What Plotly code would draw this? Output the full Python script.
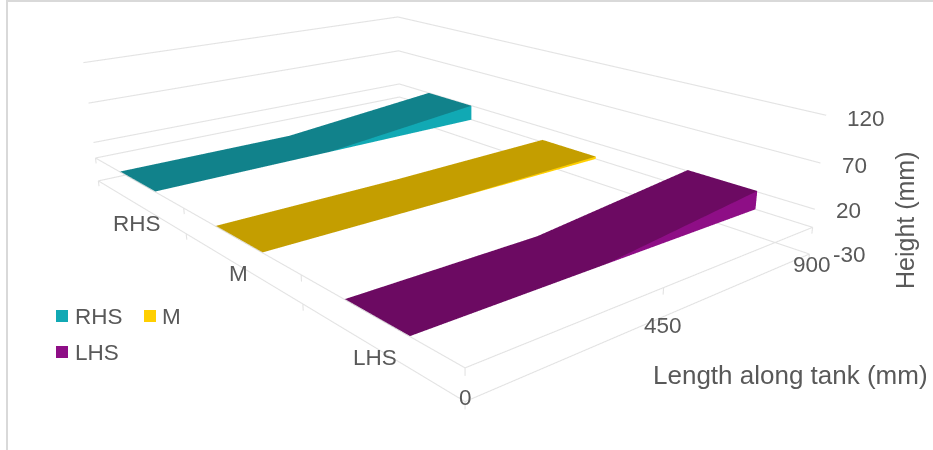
import plotly.graph_objects as go

# --- chart data ---------------------------------------------------------
lengths_mm = [0, 450, 900]
series_names = ["RHS", "M", "LHS"]
rhs_height = [0, 0, 20]
m_height = [0, 0, 3]
lhs_height = [0, 0, 21]
series_heights = [rhs_height, m_height, lhs_height]
series_rows = [2.5, 1.5, 0.5]
legend_colors = ["#11A9B4", "#FFCF00", "#8E0E86"]
top_colors = ["#11828B", "#C49E00", "#6C0A62"]
height_ticks = [-30, 0, 20, 70, 120]
row_edges = [0, 1, 2, 3]

# --- page and camera set-up ---------------------------------------------
WIDTH, WINDOW_H = 933, 450
PLOT_H = 909          # plotly's fixed 45 degree lens needs this height for a long focal length
OFFSET = 229          # the plot is pulled up so its middle sits at the window middle
RIBBON_HALF = 0.2
GRID = "#E3E3E3"
TEXT = "#595959"
FONT = "Liberation Sans"
# ranges carry a little padding so lines on the box faces are not clipped
X_RANGE = [-20, 920]
Y_RANGE = [-0.1, 3.1]
Z_RANGE = [-40, 130]


def paper_x(x):
    return x / WIDTH


def paper_y(y):
    return 1 - (y + OFFSET) / PLOT_H


fig = go.Figure()


def polyline(points, width=2.2, color=GRID):
    xs, ys, zs = zip(*points)
    fig.add_trace(go.Scatter3d(x=xs, y=ys, z=zs, mode="lines",
                               line=dict(color=color, width=width),
                               hoverinfo="skip", showlegend=False))


# back walls and the two floor outlines
for z in height_ticks:
    polyline([(0, 3, z), (900, 3, z), (900, 0, z)])
for z in (-30, 0):
    polyline([(0, 3, z), (0, 0, z), (900, 0, z)])
    for edge in row_edges:
        polyline([(0, edge, z), (0, edge, z - 7)])
    for length in lengths_mm:
        polyline([(length, 0, z), (length, 0, z - 7)])

# one ribbon per series: top surface in the shaded tone, near side in the full colour
for name, values, row, light, dark in zip(series_names, series_heights, series_rows,
                                          legend_colors, top_colors):
    xs, ys, zs, i, j, k, face = [], [], [], [], [], [], []
    near, far = row - RIBBON_HALF, row + RIBBON_HALF
    for length, value in zip(lengths_mm, values):
        xs += [length] * 4
        ys += [near, far, near, far]
        zs += [0, 0, value, value]
    for n in range(len(lengths_mm) - 1):
        a = 4 * n
        b = a + 4
        # near side
        i += [a, a]; j += [b, b + 2]; k += [b + 2, a + 2]
        face += [light, light]
        # far side
        i += [a + 1, b + 1]; j += [b + 1, b + 3]; k += [a + 3, a + 3]
        face += [dark, dark]
        # top surface
        i += [a + 2, a + 3]; j += [b + 2, b + 2]; k += [a + 3, b + 3]
        face += [dark, dark]
    fig.add_trace(go.Mesh3d(x=xs, y=ys, z=zs, i=i, j=j, k=k, facecolor=face, opacity=1,
                            flatshading=True, name=name, hoverinfo="skip", showscale=False,
                            lighting=dict(ambient=1, diffuse=0, specular=0, fresnel=0, roughness=1)))

# --- text ---------------------------------------------------------------
labels = [
    ("120", 866, 118), ("70", 854, 165), ("20", 848, 210), ("-30", 849, 255),
    ("900", 812, 264), ("450", 663, 325), ("0", 465, 397),
    ("RHS", 137, 224), ("M", 238, 273), ("LHS", 375, 357),
]
annotations = [dict(text=t, x=paper_x(x), y=paper_y(y), xref="paper", yref="paper",
                    xanchor="center", yanchor="middle", showarrow=False,
                    font=dict(family=FONT, size=22.5, color=TEXT)) for t, x, y in labels]
annotations.append(dict(text="Length along tank (mm)", x=paper_x(790), y=paper_y(375), xref="paper",
                        yref="paper", xanchor="center", yanchor="middle", showarrow=False,
                        font=dict(family=FONT, size=26, color=TEXT)))
annotations.append(dict(text="Height (mm)", x=paper_x(905), y=paper_y(220), xref="paper", yref="paper",
                        xanchor="center", yanchor="middle", showarrow=False, textangle=-90,
                        font=dict(family=FONT, size=25, color=TEXT)))

# legend keys
shapes = []
legend_slots = [(56, 310, 73), (144, 310, 160), (56, 346, 73)]
for name, color, (x, y, tx) in zip(series_names, legend_colors, legend_slots):
    shapes.append(dict(type="rect", xref="paper", yref="paper", x0=paper_x(x), x1=paper_x(x + 12),
                       y0=paper_y(y), y1=paper_y(y + 12), fillcolor=color, line=dict(width=0)))
    annotations.append(dict(text=name, x=paper_x(tx), y=paper_y(y + 6), xref="paper", yref="paper",
                            xanchor="left", yanchor="middle", showarrow=False,
                            font=dict(family=FONT, size=22.5, color=TEXT)))

# chart frame
shapes.append(dict(type="line", xref="paper", yref="paper", x0=paper_x(7), x1=paper_x(7),
                   y0=paper_y(0), y1=paper_y(WINDOW_H), line=dict(color="#D9D9D9", width=2)))
shapes.append(dict(type="line", xref="paper", yref="paper", x0=paper_x(6), x1=1,
                   y0=paper_y(1), y1=paper_y(1), line=dict(color="#D9D9D9", width=2)))

# --- scene --------------------------------------------------------------
# box proportions for the nominal 0-900, 0-3, -30-120 ranges, scaled up for the padding
aspect = dict(x=3.14616 * (X_RANGE[1] - X_RANGE[0]) / 900,
              y=4.74963 * (Y_RANGE[1] - Y_RANGE[0]) / 3,
              z=(Z_RANGE[1] - Z_RANGE[0]) / 150)
z_shift = (45 - sum(Z_RANGE) / 2) / 150
hidden = dict(visible=False, showspikes=False)
fig.update_layout(
    width=WIDTH, height=PLOT_H, autosize=False, margin=dict(l=0, r=0, t=0, b=0),
    paper_bgcolor="white", showlegend=False, annotations=annotations, shapes=shapes,
    scene=dict(
        domain=dict(x=[0, 1], y=[0, 1]),
        xaxis=dict(range=X_RANGE, **hidden),
        yaxis=dict(range=Y_RANGE, **hidden),
        zaxis=dict(range=Z_RANGE, **hidden),
        aspectmode="manual", aspectratio=aspect,
        camera=dict(eye=dict(x=-4.8310, y=-6.2423, z=2.4307 + z_shift),
                    center=dict(x=-0.7390, y=-1.3992, z=z_shift),
                    up=dict(x=0, y=0, z=1),
                    projection=dict(type="perspective"))))

post = """
var g = document.getElementById('{plot_id}');
g.style.position = 'absolute'; g.style.left = '0'; g.style.top = '-%dpx';
var r = document.documentElement, b = document.body;
r.style.overflow = 'hidden'; b.style.overflow = 'hidden';
r.style.height = '%dpx'; b.style.height = '%dpx'; b.style.margin = '0';
""" % (OFFSET, WINDOW_H, WINDOW_H)
fig.write_html("out.html", post_script=post, config=dict(displayModeBar=False))
